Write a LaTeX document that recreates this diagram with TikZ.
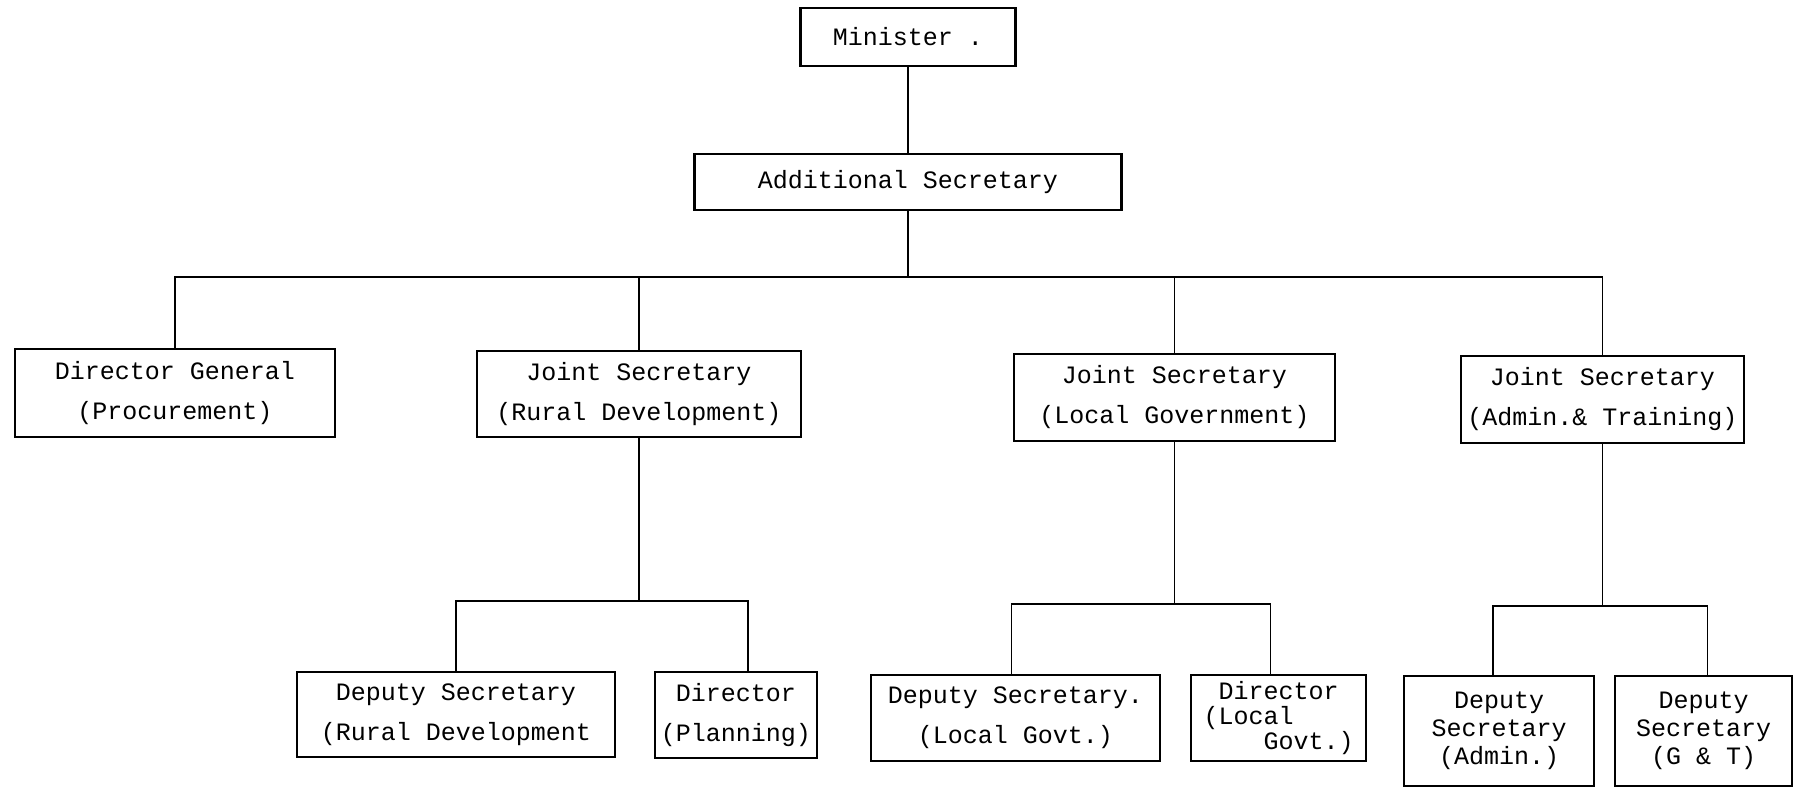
\documentclass[tikz,border=0pt]{standalone}
\usepackage{fontspec}
\setmonofont{Liberation Mono}
\usetikzlibrary{positioning}

\begin{document}
\begin{tikzpicture}[x=0.5pt, y=-0.5pt,
  post/.style={draw, rectangle, line width=1.3pt, inner sep=0pt, align=center,
    font=\ttfamily\fontsize{12.5}{20}\selectfont},
  tight/.style={font=\ttfamily\fontsize{12.5}{12.5}\selectfont},
  conn/.style={line width=0.8pt}]

\useasboundingbox (0,0) rectangle (1794,788);

% Top of the chart
\node[post, minimum width=107.5pt, minimum height=29pt] (minister) at (908,37) {Minister .};
\node[post, minimum width=213.5pt, minimum height=28pt] (addsec) at (908,182) {Additional Secretary};

% Second row
\node[post, minimum width=160pt, minimum height=44pt] (dg) at (175,393) {Director General\\(Procurement)};
\node[post, minimum width=162pt, minimum height=43pt] (jsrd) at (639,394) {Joint Secretary\\(Rural Development)};
\node[post, minimum width=160.5pt, minimum height=43.5pt] (jslg) at (1174.5,397.5) {Joint Secretary\\(Local Government)};
\node[post, minimum width=141.5pt, minimum height=43.5pt] (jsat) at (1602.5,399.5) {Joint Secretary\\(Admin.\& Training)};

% Bottom row
\node[post, minimum width=159pt, minimum height=42.5pt] (dsrd) at (456,714.5) {Deputy Secretary\\(Rural Development};
\node[post, minimum width=81pt, minimum height=43pt] (dirpl) at (736,715) {Director\\(Planning)};
\node[post, minimum width=144.5pt, minimum height=43pt] (dslg) at (1015.5,718) {Deputy Secretary.\\(Local Govt.)};
\node[post, tight, align=left, minimum width=87.5pt, minimum height=43pt] (dirlg) at (1278.5,718) {~Director\\(Local\\~~~~Govt.)};
\node[post, minimum width=95pt, minimum height=55pt] (dsad) at (1499,731) {Deputy\\[-6pt]Secretary\\[-6pt](Admin.)};
\node[post, minimum width=88.5pt, minimum height=55pt] (dsgt) at (1703.5,731) {Deputy\\[-6pt]Secretary\\[-6pt](G \& T)};

% Connectors
\coordinate (topbar) at (908,277);
\coordinate (rdbar) at (639,601);
\coordinate (lgbar) at (1174.5,604);
\coordinate (atbar) at (1602.5,606);

\draw[conn] (minister) -- (addsec);
\draw[conn] (addsec.south) -- (topbar);
\draw[conn] (dg.north) |- (jsat.north |- topbar) -- (jsat.north);
\draw[conn] (jsrd.north) -- (jsrd.north |- topbar);
\draw[conn] (jslg.north) -- (jslg.north |- topbar);

\draw[conn] (jsrd.south) -- (rdbar);
\draw[conn] (dsrd.north) |- ([xshift=6pt]dirpl.north |- rdbar) -- ([xshift=6pt]dirpl.north);

\draw[conn] (jslg.south) -- (lgbar);
\draw[conn] ([xshift=-2pt]dslg.north) |- ([xshift=-4pt]dirlg.north |- lgbar) -- ([xshift=-4pt]dirlg.north);

\draw[conn] (jsat.south) -- (atbar);
\draw[conn] ([xshift=-3pt]dsad.north) |- ([xshift=2pt]dsgt.north |- atbar) -- ([xshift=2pt]dsgt.north);
\end{tikzpicture}
\end{document}
